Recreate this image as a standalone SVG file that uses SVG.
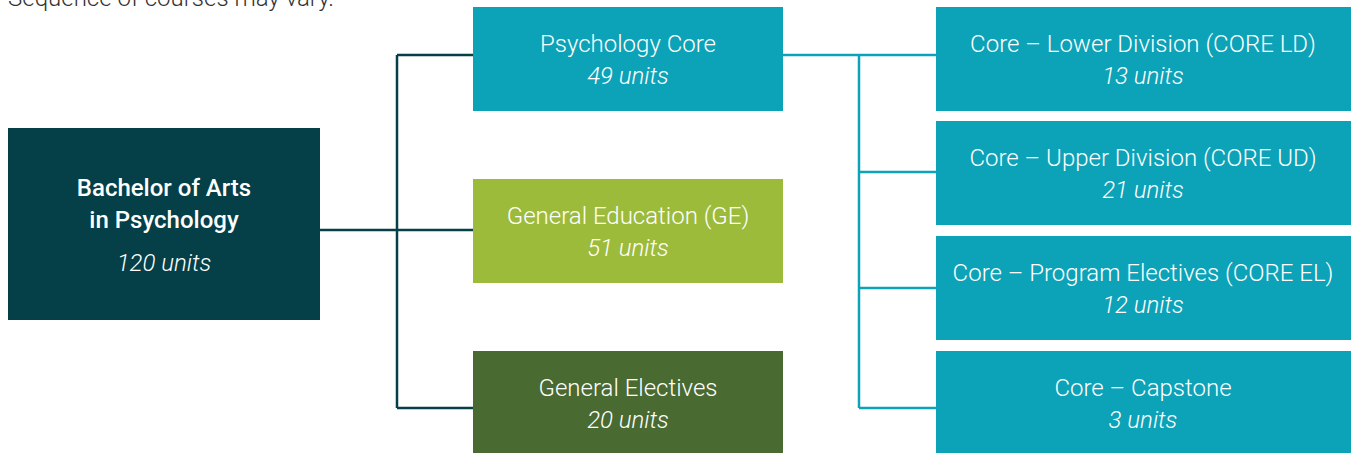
<svg xmlns="http://www.w3.org/2000/svg" width="1351" height="453" viewBox="0 0 1351 453">
<style>
text{font-family:Roboto,"Liberation Sans",sans-serif;text-anchor:middle;fill:#ffffff;}
.t{font-size:24px;font-weight:300;}
.u{font-size:24px;font-weight:300;font-style:italic;}
.b{font-size:24px;font-weight:500;}
.note{font-size:24px;font-weight:300;fill:#333333;text-anchor:start;}
.dk{stroke:#053f47;stroke-width:2.5;fill:none;}
.lt{stroke:#0ca2b8;stroke-width:2.5;fill:none;}
</style>
<rect width="1351" height="453" fill="#ffffff"/>
<text class="note" x="8" y="6">Sequence of courses may vary.</text>
<g id="connectors">
<path class="dk" d="M320 230H473M397 55V408M397 55H473M397 408H473"/>
<path class="lt" d="M783 55H936M859 55V408M859 172H936M859 288H936M859 408H936"/>
</g>
<g id="root">
<rect x="8" y="128" width="312" height="192" fill="#053f47"/>
<text class="b" x="164" y="196">Bachelor of Arts</text>
<text class="b" x="164" y="228">in Psychology</text>
<text class="u" x="164" y="271">120 units</text>
</g>
<g id="psych-core">
<rect x="473" y="7" width="310" height="104" fill="#0ca2b8"/>
<text class="t" x="628" y="52">Psychology Core</text>
<text class="u" x="628" y="84">49 units</text>
</g>
<g id="ge">
<rect x="473" y="179" width="310" height="104" fill="#9dbb3b"/>
<text class="t" x="628" y="224">General Education (GE)</text>
<text class="u" x="628" y="256">51 units</text>
</g>
<g id="gen-electives">
<rect x="473" y="351" width="310" height="104" fill="#496a31"/>
<text class="t" x="628" y="396">General Electives</text>
<text class="u" x="628" y="428">20 units</text>
</g>
<g id="core-ld">
<rect x="936" y="7" width="415" height="104" fill="#0ca2b8"/>
<text class="t" x="1143" y="52">Core – Lower Division (CORE LD)</text>
<text class="u" x="1143" y="84">13 units</text>
</g>
<g id="core-ud">
<rect x="936" y="121" width="415" height="104" fill="#0ca2b8"/>
<text class="t" x="1143" y="166">Core – Upper Division (CORE UD)</text>
<text class="u" x="1143" y="198">21 units</text>
</g>
<g id="core-el">
<rect x="936" y="236" width="415" height="104" fill="#0ca2b8"/>
<text class="t" x="1143" y="281">Core – Program Electives (CORE EL)</text>
<text class="u" x="1143" y="313">12 units</text>
</g>
<g id="core-cap">
<rect x="936" y="351" width="415" height="104" fill="#0ca2b8"/>
<text class="t" x="1143" y="396">Core – Capstone</text>
<text class="u" x="1143" y="428">3 units</text>
</g>
</svg>
